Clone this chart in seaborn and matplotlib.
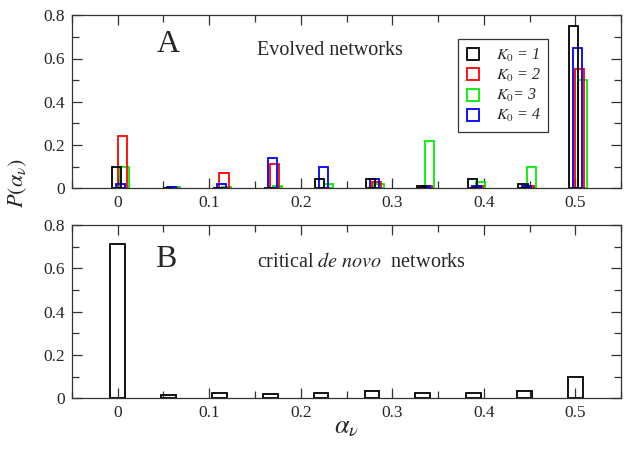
import numpy as np
import matplotlib
matplotlib.use("Agg")
import matplotlib.pyplot as plt
import seaborn as sns
from matplotlib.lines import Line2D
from matplotlib.ticker import MultipleLocator

# bin centres of alpha_v (multiples of 1/18)
alpha_bins = [0.0, 0.0556, 0.1111, 0.1667, 0.2222, 0.2778, 0.3333, 0.3889, 0.4444, 0.5]

# panel A: evolved networks, one series per K_0
p_k1 = [0.10, 0.0, 0.0, 0.0, 0.04, 0.04, 0.01, 0.04, 0.02, 0.75]
p_k2 = [0.24, 0.0, 0.07, 0.11, 0.0, 0.03, 0.01, 0.01, 0.01, 0.55]
p_k3 = [0.10, 0.003, 0.003, 0.01, 0.02, 0.02, 0.22, 0.03, 0.10, 0.50]
p_k4 = [0.02, 0.003, 0.02, 0.14, 0.10, 0.04, 0.01, 0.01, 0.012, 0.65]
series_labels = ["$K_0$ = 1", "$K_0$ = 2", "$K_0$= 3", "$K_0$ = 4"]

# panel B: critical de novo networks
p_denovo = [0.71, 0.015, 0.022, 0.02, 0.023, 0.035, 0.026, 0.025, 0.035, 0.10]

xtick_vals = [0.0, 0.1, 0.2, 0.3, 0.4, 0.5]
xtick_labels = ["0", "0.1", "0.2", "0.3", "0.4", "0.5"]
ytick_vals = [0.0, 0.2, 0.4, 0.6, 0.8]
ytick_labels = ["0", "0.2", "0.4", "0.6", "0.8"]

colors = ["#000000", "#ff0000", "#00ee00", "#0000ff"]
offsets = [-0.0016, 0.005, 0.0077, 0.0027]   # small shifts so the bars overlap like the original

sns.set_style("ticks")
plt.rcParams["font.family"] = ["Liberation Serif", "DejaVu Serif"]
plt.rcParams["mathtext.fontset"] = "stix"
plt.rcParams["mathtext.default"] = "it"

fig = plt.figure(figsize=(6.28, 4.5), dpi=100)
ax_a = fig.add_axes([0.1146, 0.582, 0.8744, 0.384])
ax_b = fig.add_axes([0.1146, 0.115, 0.8744, 0.385])

series = [p_k1, p_k2, p_k3, p_k4]
# draw green/red first, then blue, black so overlaps read like the reference
for idx in [2, 1, 3, 0]:
    xs = [b + offsets[idx] for b in alpha_bins]
    sns.barplot(x=xs, y=series[idx], native_scale=True, width=0.18, fill=False,
                color=colors[idx], linewidth=1.3, errorbar=None, ax=ax_a)

sns.barplot(x=alpha_bins, y=p_denovo, native_scale=True, width=0.29, fill=False,
            color="black", linewidth=1.3, errorbar=None, ax=ax_b)

for ax in (ax_a, ax_b):
    ax.set_xlim(-0.05, 0.55)
    ax.set_ylim(0, 0.8)
    ax.set_xticks(xtick_vals)
    ax.set_xticklabels(xtick_labels)
    ax.set_yticks(ytick_vals)
    ax.set_yticklabels(ytick_labels)
    ax.xaxis.set_minor_locator(MultipleLocator(0.05))
    ax.yaxis.set_minor_locator(MultipleLocator(0.1))
    ax.tick_params(which="both", direction="in", top=True, right=True,
                   labelsize=12.5, width=0.9, color="#333333", pad=5)
    ax.tick_params(which="major", length=7)
    ax.tick_params(which="minor", length=5)
    for sp in ax.spines.values():
        sp.set_visible(True)
        sp.set_linewidth(0.9)
        sp.set_color("#333333")
    ax.set_xlabel("")
    ax.set_ylabel("")

ax_a.text(0.043, 0.628, "A", fontsize=23, va="baseline")
ax_a.text(0.152, 0.614, "Evolved networks", fontsize=14.5, va="baseline")
ax_b.text(0.041, 0.606, "B", fontsize=23, va="baseline")
ax_b.text(0.152, 0.606, "critical $\\mathit{de\\ novo}$  networks", fontsize=14.5,
          va="baseline")

handles = [Line2D([], [], marker="s", linestyle="none", markersize=8,
                  markerfacecolor="none", markeredgecolor=c, markeredgewidth=1.3)
           for c in colors]
leg = ax_a.legend(handles, series_labels, loc="upper left",
                  bbox_to_anchor=(0.703, 0.861), borderaxespad=0, frameon=True,
                  fancybox=False, framealpha=1, edgecolor="#333333",
                  prop={"style": "italic", "size": 11.5},
                  handletextpad=0.9, borderpad=0.45, labelspacing=0.2,
                  handlelength=1.0)
leg.get_frame().set_linewidth(0.9)

fig.text(0.028, 0.593, r"$P(\alpha_\nu)$", rotation=90, fontsize=16,
         ha="center", va="center")
fig.text(0.552, 0.048, r"$\alpha_\nu$", fontsize=19, ha="center", va="center")

fig.savefig("out.png", dpi=100)
